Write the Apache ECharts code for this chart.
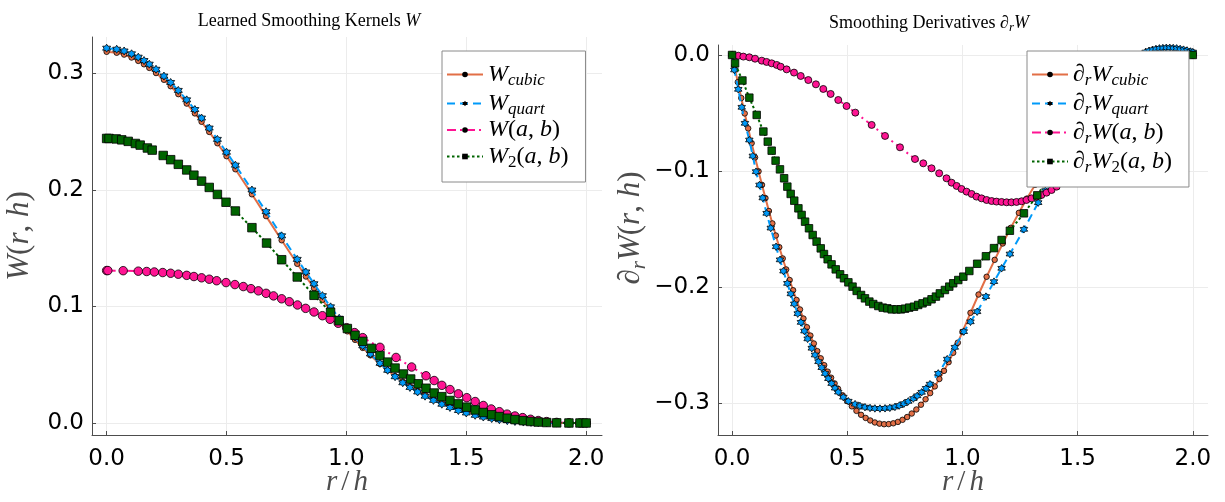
<!DOCTYPE html>
<html>
<head>
<meta charset="utf-8">
<script src="https://cdn.jsdelivr.net/npm/echarts@6/dist/echarts.min.js"></script>
<style>
  html, body { margin: 0; padding: 0; background: #fff; }
  #chart { width: 1225px; height: 502px; }
</style>
</head>
<body>
<div id="chart"></div>
<script>
// ---- left panel: kernels W(r,h) ----
const rL = [0, 0.042, 0.073, 0.104, 0.132, 0.156, 0.178, 0.206, 0.239, 0.267, 0.299, 0.334, 0.368, 0.396, 0.428, 0.462, 0.5, 0.537, 0.606, 0.665, 0.73, 0.795, 0.831, 0.865, 0.9, 0.934, 0.97, 1.004, 1.036, 1.068, 1.1, 1.14, 1.172, 1.203, 1.235, 1.265, 1.297, 1.328, 1.363, 1.398, 1.432, 1.467, 1.5, 1.537, 1.571, 1.606, 1.638, 1.671, 1.703, 1.738, 1.77, 1.8, 1.835, 1.877, 1.928, 1.974, 2.0];
const wCubic = [0.3183, 0.3175, 0.3159, 0.3134, 0.3105, 0.3076, 0.3045, 0.3001, 0.2943, 0.2888, 0.2820, 0.2739, 0.2655, 0.2583, 0.2496, 0.2399, 0.2288, 0.2176, 0.1961, 0.1774, 0.1567, 0.1365, 0.1256, 0.1156, 0.1056, 0.0963, 0.0869, 0.0786, 0.0713, 0.0644, 0.0580, 0.0506, 0.0452, 0.0403, 0.0356, 0.0316, 0.0276, 0.0241, 0.0206, 0.0174, 0.0146, 0.0120, 0.0099, 0.0079, 0.0063, 0.0049, 0.0038, 0.0028, 0.0021, 0.0014, 0.0010, 0.0006, 0.0004, 0.0001, 0, 0, 0];
const wQuart = [0.3214, 0.3205, 0.3190, 0.3166, 0.3137, 0.3108, 0.3077, 0.3033, 0.2975, 0.2920, 0.2852, 0.2771, 0.2688, 0.2615, 0.2529, 0.2432, 0.2322, 0.2211, 0.1998, 0.1812, 0.1605, 0.1403, 0.1295, 0.1194, 0.1092, 0.0996, 0.0898, 0.0812, 0.0735, 0.0662, 0.0592, 0.0512, 0.0452, 0.0397, 0.0345, 0.0305, 0.0266, 0.0230, 0.0194, 0.0161, 0.0133, 0.0107, 0.0086, 0.0066, 0.0051, 0.0038, 0.0028, 0.0020, 0.0013, 0.0008, 0.0005, 0.0003, 0.0001, 0, 0, 0, 0];
const rAbL = [0, 0.005, 0.069, 0.132, 0.167, 0.199, 0.234, 0.267, 0.299, 0.334, 0.364, 0.396, 0.428, 0.459, 0.498, 0.535, 0.57, 0.602, 0.633, 0.665, 0.696, 0.73, 0.762, 0.796, 0.83, 0.865, 0.9, 0.932, 0.966, 1.001, 1.034, 1.068, 1.14, 1.207, 1.272, 1.332, 1.366, 1.398, 1.432, 1.467, 1.502, 1.537, 1.571, 1.604, 1.638, 1.67, 1.703, 1.735, 1.768, 1.8, 1.835, 1.877, 1.928, 1.974, 2.0];
const wAb = [0.1307, 0.1307, 0.1306, 0.1302, 0.1299, 0.1295, 0.1290, 0.1284, 0.1276, 0.1266, 0.1256, 0.1245, 0.1233, 0.1220, 0.1204, 0.1187, 0.1170, 0.1152, 0.1133, 0.1112, 0.1090, 0.1065, 0.1040, 0.1012, 0.0983, 0.0952, 0.0920, 0.0889, 0.0855, 0.0817, 0.0775, 0.0732, 0.0649, 0.0562, 0.0480, 0.0405, 0.0364, 0.0323, 0.0287, 0.0250, 0.0217, 0.0184, 0.0150, 0.0120, 0.0097, 0.0076, 0.0060, 0.0046, 0.0032, 0.0021, 0.0012, 0.0005, 0.0001, 0, 0];
const rAb2L = [0, 0.01, 0.04, 0.063, 0.09, 0.12, 0.14, 0.17, 0.19, 0.236, 0.267, 0.299, 0.334, 0.364, 0.396, 0.428, 0.462, 0.498, 0.537, 0.606, 0.667, 0.73, 0.795, 0.865, 0.934, 0.97, 1.004, 1.036, 1.068, 1.105, 1.14, 1.172, 1.203, 1.238, 1.268, 1.3, 1.332, 1.366, 1.398, 1.432, 1.467, 1.502, 1.537, 1.571, 1.606, 1.638, 1.671, 1.703, 1.738, 1.768, 1.8, 1.835, 1.877, 1.928, 1.974, 2.0];
const wAb2 = [0.2440, 0.2440, 0.2436, 0.2428, 0.2415, 0.2397, 0.2383, 0.2358, 0.2340, 0.2294, 0.2258, 0.2218, 0.2170, 0.2125, 0.2074, 0.2020, 0.1960, 0.1893, 0.1818, 0.1675, 0.1543, 0.1400, 0.1252, 0.1095, 0.0950, 0.0877, 0.0810, 0.0752, 0.0700, 0.0640, 0.0578, 0.0522, 0.0471, 0.0420, 0.0377, 0.0336, 0.0298, 0.0257, 0.0226, 0.0193, 0.0164, 0.0136, 0.0112, 0.0090, 0.0070, 0.0055, 0.0041, 0.0029, 0.0020, 0.0013, 0.0008, 0.0004, 0.0001, 0, 0, 0];

// ---- right panel: derivatives dW/dr ----
const rCubicR = [0, 0.01, 0.025, 0.04, 0.055, 0.07, 0.085, 0.1, 0.115, 0.13, 0.145, 0.16, 0.175, 0.19, 0.205, 0.22, 0.235, 0.25, 0.265, 0.28, 0.295, 0.31, 0.325, 0.34, 0.355, 0.37, 0.385, 0.4, 0.415, 0.43, 0.445, 0.46, 0.48, 0.5, 0.52, 0.54, 0.56, 0.58, 0.6, 0.62, 0.64, 0.66, 0.68, 0.7, 0.72, 0.74, 0.76, 0.78, 0.8, 0.82, 0.84, 0.86, 0.88, 0.9, 0.92, 0.94, 0.96, 0.98, 1.0, 1.035, 1.07, 1.105, 1.14, 1.175, 1.21, 1.245, 1.28, 1.315, 1.35, 1.39, 1.43, 1.47, 1.51, 1.55, 1.59, 1.63, 1.67, 1.71, 1.75, 1.79, 1.83, 1.87, 1.91, 1.95, 2.0];
const dwCubic = [0, -0.0095, -0.0234, -0.0371, -0.0504, -0.0633, -0.0760, -0.0883, -0.1003, -0.1120, -0.1234, -0.1345, -0.1452, -0.1556, -0.1657, -0.1754, -0.1849, -0.1940, -0.2028, -0.2112, -0.2194, -0.2272, -0.2347, -0.2419, -0.2487, -0.2553, -0.2615, -0.2674, -0.2730, -0.2782, -0.2831, -0.2877, -0.2934, -0.2984, -0.3029, -0.3068, -0.3102, -0.3129, -0.3151, -0.3168, -0.3178, -0.3183, -0.3182, -0.3175, -0.3163, -0.3145, -0.3121, -0.3091, -0.3056, -0.3015, -0.2968, -0.2915, -0.2857, -0.2793, -0.2723, -0.2648, -0.2567, -0.2480, -0.2387, -0.2223, -0.2065, -0.1912, -0.1766, -0.1625, -0.1490, -0.1361, -0.1238, -0.1120, -0.1009, -0.0888, -0.0776, -0.0671, -0.0573, -0.0483, -0.0401, -0.0327, -0.0260, -0.0201, -0.0149, -0.0105, -0.0069, -0.0040, -0.0019, -0.0006, 0];
const rQuartR = [0, 0.010, 0.027, 0.042, 0.056, 0.075, 0.090, 0.104, 0.119, 0.133, 0.150, 0.168, 0.191, 0.208, 0.223, 0.240, 0.255, 0.270, 0.285, 0.299, 0.314, 0.328, 0.346, 0.360, 0.375, 0.389, 0.404, 0.418, 0.432, 0.447, 0.461, 0.483, 0.505, 0.534, 0.555, 0.577, 0.599, 0.620, 0.642, 0.664, 0.685, 0.707, 0.726, 0.746, 0.765, 0.787, 0.804, 0.823, 0.842, 0.859, 0.895, 0.934, 0.967, 1.006, 1.035, 1.064, 1.102, 1.137, 1.170, 1.206, 1.267, 1.329, 1.36, 1.40, 1.44, 1.48, 1.52, 1.56, 1.60, 1.64, 1.68, 1.72, 1.76, 1.78, 1.795, 1.81, 1.825, 1.84, 1.855, 1.87, 1.885, 1.90, 1.915, 1.93, 1.945, 1.96, 1.975, 1.99, 2.0];
const dwQuart = [0, -0.0129, -0.0296, -0.0451, -0.0589, -0.0733, -0.0871, -0.1006, -0.1121, -0.1232, -0.1365, -0.1492, -0.1653, -0.1766, -0.1863, -0.1969, -0.2059, -0.2146, -0.2230, -0.2305, -0.2380, -0.2447, -0.2528, -0.2586, -0.2644, -0.2695, -0.2746, -0.2790, -0.2832, -0.2872, -0.2906, -0.2950, -0.2985, -0.3010, -0.3025, -0.3036, -0.3043, -0.3047, -0.3048, -0.3046, -0.3042, -0.3034, -0.3022, -0.3006, -0.2986, -0.2962, -0.2938, -0.2908, -0.2874, -0.2838, -0.2745, -0.2622, -0.2520, -0.2385, -0.2300, -0.2213, -0.2083, -0.1954, -0.1839, -0.1716, -0.1503, -0.1273, -0.1170, -0.1035, -0.0900, -0.0770, -0.0645, -0.0530, -0.0420, -0.0320, -0.0230, -0.0120, -0.0040, 0.0000, 0.0025, 0.0036, 0.0045, 0.0052, 0.0057, 0.0060, 0.0062, 0.0062, 0.0060, 0.0057, 0.0052, 0.0046, 0.0039, 0.0030, 0.0025];
const rAbR = [0, 0.027, 0.049, 0.075, 0.1, 0.129, 0.15, 0.172, 0.194, 0.211, 0.237, 0.269, 0.298, 0.331, 0.364, 0.396, 0.428, 0.461, 0.497, 0.535, 0.606, 0.664, 0.729, 0.794, 0.83, 0.866, 0.899, 0.931, 0.953, 0.975, 0.996, 1.018, 1.04, 1.061, 1.083, 1.105, 1.127, 1.148, 1.17, 1.192, 1.213, 1.235, 1.257, 1.278, 1.3, 1.322, 1.343, 1.365, 1.387, 1.409, 1.43, 1.46, 1.49, 1.52, 1.55, 1.58, 1.61, 1.64, 1.67, 1.7, 1.73, 1.76, 1.79, 1.82, 1.85, 1.88, 1.91, 1.94, 1.97, 2.0];
const dwAb = [0, -0.0006, -0.0014, -0.0020, -0.0032, -0.0049, -0.0060, -0.0072, -0.0086, -0.0101, -0.0124, -0.0152, -0.0181, -0.0216, -0.0253, -0.0293, -0.0336, -0.0388, -0.0440, -0.0497, -0.0603, -0.0698, -0.0796, -0.0897, -0.0934, -0.0977, -0.1020, -0.1063, -0.1101, -0.1129, -0.1155, -0.1178, -0.1198, -0.1221, -0.1236, -0.1250, -0.1259, -0.1264, -0.1267, -0.1270, -0.1270, -0.1267, -0.1261, -0.1250, -0.1236, -0.1221, -0.1207, -0.1187, -0.1164, -0.1135, -0.1100, -0.1060, -0.1000, -0.0940, -0.0870, -0.0790, -0.0710, -0.0630, -0.0550, -0.0460, -0.0380, -0.0300, -0.0230, -0.0160, -0.0100, -0.0060, -0.0030, -0.0010, 0, 0];
const rAb2R = [0, 0.013, 0.045, 0.075, 0.107, 0.136, 0.155, 0.172, 0.189, 0.208, 0.226, 0.24, 0.2545, 0.27, 0.288, 0.302, 0.317, 0.334, 0.35, 0.367, 0.385, 0.399, 0.415, 0.432, 0.45, 0.469, 0.486, 0.505, 0.523, 0.541, 0.56, 0.577, 0.596, 0.613, 0.635, 0.654, 0.674, 0.693, 0.714, 0.733, 0.751, 0.769, 0.79, 0.808, 0.827, 0.847, 0.866, 0.885, 0.902, 0.924, 0.943, 0.96, 0.982, 1.004, 1.03, 1.064, 1.102, 1.137, 1.17, 1.206, 1.267, 1.325, 1.36, 1.4, 1.44, 1.48, 1.52, 1.56, 1.6, 1.64, 1.68, 1.72, 1.76, 1.8, 1.84, 1.88, 1.92, 1.96, 2.0];
const dwAb2 = [0, -0.0072, -0.0220, -0.0368, -0.0517, -0.0660, -0.0747, -0.0825, -0.0911, -0.0986, -0.1063, -0.1135, -0.1198, -0.1256, -0.1322, -0.1379, -0.1437, -0.1494, -0.1552, -0.1609, -0.1667, -0.1716, -0.1761, -0.1805, -0.1848, -0.1891, -0.1925, -0.1960, -0.1997, -0.2034, -0.2069, -0.2098, -0.2126, -0.2147, -0.2164, -0.2178, -0.2184, -0.2193, -0.2193, -0.2193, -0.2187, -0.2178, -0.2170, -0.2155, -0.2141, -0.2126, -0.2106, -0.2083, -0.2055, -0.2026, -0.1997, -0.1968, -0.1940, -0.1911, -0.1862, -0.1800, -0.1735, -0.1665, -0.1595, -0.1515, -0.1365, -0.1210, -0.1100, -0.1000, -0.0890, -0.0780, -0.0670, -0.0570, -0.0470, -0.0380, -0.0300, -0.0220, -0.0160, -0.0100, -0.0060, -0.0030, -0.0010, 0, 0];

const pairs = (xs, ys) => xs.map((x, i) => [x, ys[i]]);

const ORANGE = '#e26f46', BLUE = '#009af9', PINK = '#ff1493', GREEN = '#006400';
const STAR = 'path://M0,-10L2.887,-5L8.66,-5L5.774,0L8.66,5L2.887,5L0,10L-2.887,5L-8.66,5L-5.774,0L-8.66,-5L-2.887,-5Z';
const SERIF = 'Liberation Serif';
const AXIS = '#4d4d4d';

function line(name, idx, xs, ys, color, dash, symbol, size, z) {
  return {
    name, type: 'line', xAxisIndex: idx, yAxisIndex: idx,
    data: pairs(xs, ys),
    symbol, symbolSize: size, showSymbol: true, z,
    lineStyle: { color, width: 2, type: dash },
    itemStyle: { color, borderColor: '#000', borderWidth: 0.8 },
    emphasis: { disabled: true }
  };
}

// math-ish rich text pieces
const legendRich = {
  i: { fontFamily: SERIF, fontStyle: 'italic', fontSize: 24, lineHeight: 20, color: '#000' },
  n: { fontFamily: SERIF, fontSize: 24, lineHeight: 20, color: '#000' },
  s: { fontFamily: SERIF, fontStyle: 'italic', fontSize: 17, lineHeight: 8, padding: [12, 0, 0, 0], color: '#000' },
  s2: { fontFamily: SERIF, fontSize: 17, lineHeight: 8, padding: [12, 0, 0, 0], color: '#000' }
};
const legendText = {
  W_cubic: '{i|W}{s|cubic}',
  W_quart: '{i|W}{s|quart}',
  W_ab: '{i|W}{n|(}{i|a}{n|, }{i|b}{n|)}',
  W2_ab: '{i|W}{s2|2}{n|(}{i|a}{n|, }{i|b}{n|)}',
  dW_cubic: '{i|∂}{s|r}{i|W}{s|cubic}',
  dW_quart: '{i|∂}{s|r}{i|W}{s|quart}',
  dW_ab: '{i|∂}{s|r}{i|W}{n|(}{i|a}{n|, }{i|b}{n|)}',
  dW2_ab: '{i|∂}{s|r}{i|W}{s2|2}{n|(}{i|a}{n|, }{i|b}{n|)}'
};

function legend(names, left) {
  return {
    data: names, orient: 'vertical', left, top: 51, z: 20,
    backgroundColor: '#fff', borderColor: '#8a8a8a', borderWidth: 1,
    padding: [9, 17, 11, 4], itemGap: 0, itemWidth: 36, itemHeight: 7,
    itemStyle: { color: '#000', borderColor: '#000', borderWidth: 0 },
    textStyle: { rich: legendRich }, formatter: n => legendText[n],
    selectedMode: false
  };
}

const tickFont = { fontFamily: 'DejaVu Sans', fontSize: 23, color: '#000' };
const fmt = v => (v < 0 ? '\u2212' : '') + Math.abs(v).toFixed(1);
const nameRich = {
  i: { fontFamily: SERIF, fontStyle: 'italic', fontSize: 31 },
  n: { fontFamily: SERIF, fontSize: 31 },
  s: { fontFamily: SERIF, fontStyle: 'italic', fontSize: 21, padding: [18, 0, 0, 0] },
  sp: { fontSize: 10, width: 24 }
};
const xNameRich = {
  i: { fontFamily: SERIF, fontStyle: 'italic', fontSize: 29, lineHeight: 30 },
  sl: { fontFamily: SERIF, fontSize: 29, lineHeight: 30, padding: [0, 4, 0, 4] }
};

function xAxis(idx) {
  return {
    type: 'value', gridIndex: idx, min: -0.061, max: 2.066, splitNumber: 4,
    name: '{i|r}{sl|/}{i|h}', nameLocation: 'middle', nameGap: 32, nameMoveOverlap: false,
    nameTextStyle: { rich: xNameRich },
    axisLine: { onZero: false, lineStyle: { color: AXIS, width: 1 } },
    axisTick: { inside: true, length: 4, lineStyle: { color: AXIS } },
    axisLabel: Object.assign({ margin: 13, formatter: fmt, showMinLabel: false, showMaxLabel: false }, tickFont),
    splitLine: { show: true, showMinLine: false, showMaxLine: false, lineStyle: { color: '#ececec', width: 1 } }
  };
}
function yAxis(idx, min, max, name, gap) {
  return {
    type: 'value', gridIndex: idx, min, max, splitNumber: 4,
    name, nameLocation: 'middle', nameGap: gap, nameRotate: 90,
    nameTextStyle: { rich: nameRich },
    axisLine: { show: true, onZero: false, lineStyle: { color: AXIS, width: 1 } },
    axisTick: { show: true, inside: true, length: 4, lineStyle: { color: AXIS } },
    axisLabel: Object.assign({ margin: 8, formatter: fmt, showMinLabel: false, showMaxLabel: false }, tickFont),
    splitLine: { show: true, showMinLine: false, showMaxLine: false, lineStyle: { color: '#ececec', width: 1 } }
  };
}

const titleStyle = {
  fontFamily: SERIF, fontSize: 18, fontWeight: 'normal', color: '#000',
  rich: {
    i: { fontFamily: SERIF, fontStyle: 'italic', fontSize: 18 },
    s: { fontFamily: SERIF, fontStyle: 'italic', fontSize: 13, padding: [9, 0, 0, 0] }
  }
};

const chart = echarts.init(document.getElementById('chart'), null, { renderer: 'canvas' });
chart.setOption({
  animation: false,
  backgroundColor: '#fff',
  title: [
    { text: 'Learned Smoothing Kernels {i|W}', left: 304, top: 7, textAlign: 'center', textStyle: titleStyle },
    { text: 'Smoothing Derivatives {i|∂}{s|r}{i|W}', left: 924, top: 7, textAlign: 'center', textStyle: titleStyle }
  ],
  grid: [
    { left: 92, top: 37, width: 510, height: 398, outerBoundsMode: 'none' },
    { left: 718, top: 45, width: 490, height: 390, outerBoundsMode: 'none' }
  ],
  xAxis: [xAxis(0), xAxis(1)],
  yAxis: [
    yAxis(0, -0.0103, 0.331, '{i|W}{n|(}{i|r}{n|, }{i|h}{n|)}', 57),
    yAxis(1, -0.3276, 0.0086, '{sp| }{i|∂}{s|r}{i|W}{n|(}{i|r}{n|, }{i|h}{n|)}', 66)
  ],
  legend: [
    legend(['W_cubic', 'W_quart', 'W_ab', 'W2_ab'], 442),
    legend(['dW_cubic', 'dW_quart', 'dW_ab', 'dW2_ab'], 1027)
  ],
  series: [
    line('W_cubic', 0, rL, wCubic, ORANGE, 'solid', 'circle', 5.5, 2),
    line('W_quart', 0, rL, wQuart, BLUE, [8, 5], STAR, 8, 3),
    line('W_ab', 0, rAbL, wAb, PINK, [9, 4, 2, 4], 'circle', 8.5, 4),
    line('W2_ab', 0, rAb2L, wAb2, GREEN, [2.5, 2.5], 'rect', 8.5, 5),
    line('dW_cubic', 1, rCubicR, dwCubic, ORANGE, 'solid', 'circle', 5.5, 2),
    line('dW_quart', 1, rQuartR, dwQuart, BLUE, [8, 5], STAR, 7.5, 3),
    line('dW_ab', 1, rAbR, dwAb, PINK, [9, 4, 2, 4], 'circle', 7, 4),
    line('dW2_ab', 1, rAb2R, dwAb2, GREEN, [2.5, 2.5], 'rect', 7.5, 5)
  ]
});
</script>
</body>
</html>
